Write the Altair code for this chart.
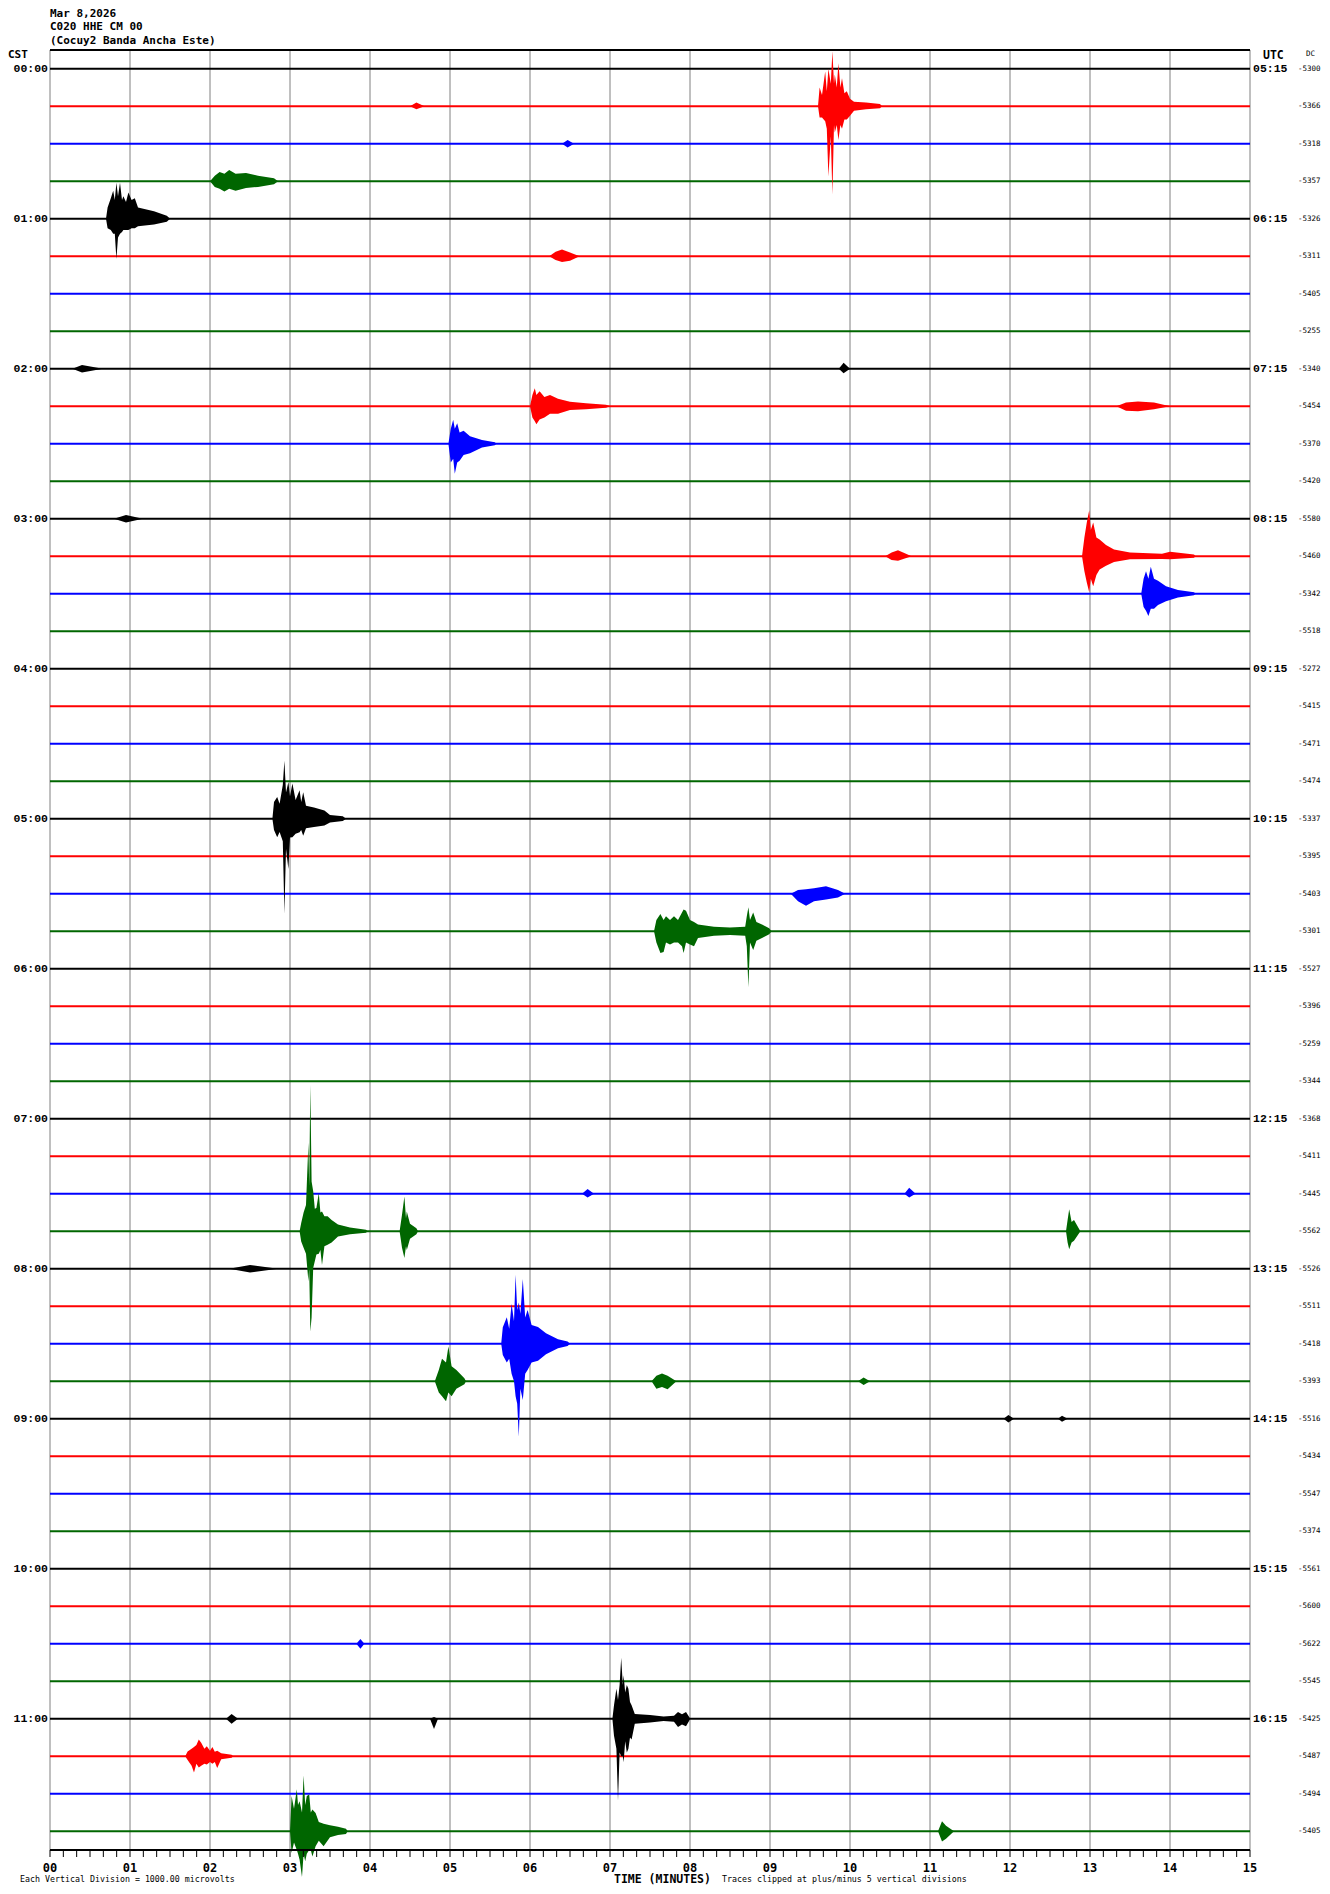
import altair as alt
import pandas as pd

# ---------------- data ----------------
hours_cst = ["00:00", "01:00", "02:00", "03:00", "04:00", "05:00",
             "06:00", "07:00", "08:00", "09:00", "10:00", "11:00"]
hours_utc = ["05:15", "06:15", "07:15", "08:15", "09:15", "10:15",
             "11:15", "12:15", "13:15", "14:15", "15:15", "16:15"]
dc_values = [-5300, -5366, -5318, -5357, -5326, -5311, -5405, -5255,
             -5340, -5454, -5370, -5420, -5580, -5460, -5342, -5518,
             -5272, -5415, -5471, -5474, -5337, -5395, -5403, -5301,
             -5527, -5396, -5259, -5344, -5368, -5411, -5445, -5562,
             -5526, -5511, -5418, -5393, -5516, -5434, -5547, -5374,
             -5561, -5600, -5622, -5545, -5425, -5487, -5494, -5405]
minute_labels = ["00", "01", "02", "03", "04", "05", "06", "07",
                 "08", "09", "10", "11", "12", "13", "14", "15"]
trace_colors = ["#000000", "#ff0000", "#0000ff", "#006600"]

# seismic bursts: trace row, then (minute, up amplitude, down amplitude),
# amplitudes in units of the trace spacing
event_rows = [1, 1, 3, 2, 4, 5, 8, 8, 9, 9, 10, 12, 13, 13, 14, 20, 22, 23,
              30, 30, 31, 31, 31, 32, 34, 35, 35, 35, 36, 36, 42, 44, 44, 44,
              45, 47, 47]
event_envelopes = [
    [(9.60, 0, 0), (9.62, 0.5, 0.3), (9.65, 0.3, 0.3), (9.69, 0.93, 0.4), (9.71, 0.4, 0.6),
     (9.73, 1.0, 1.87), (9.76, 0.6, 0.8), (9.78, 1.47, 2.35), (9.80, 0.6, 0.5), (9.81, 0.85, 0.7),
     (9.835, 0.5, 0.5), (9.855, 1.15, 0.9), (9.88, 0.5, 0.5), (9.90, 0.75, 0.6), (9.93, 0.35, 0.35),
     (9.96, 0.4, 0.35), (10.0, 0.2, 0.25), (10.05, 0.12, 0.12), (10.2, 0.1, 0.08),
     (10.375, 0.06, 0.05), (10.4, 0, 0)],
    [(4.50, 0, 0), (4.58, 0.1, 0.08), (4.68, 0, 0)],
    [(2.0, 0, 0), (2.06, 0.15, 0.15), (2.12, 0.25, 0.2), (2.18, 0.2, 0.27), (2.24, 0.3, 0.2),
     (2.32, 0.2, 0.25), (2.45, 0.22, 0.18), (2.6, 0.15, 0.15), (2.8, 0.08, 0.08), (2.85, 0, 0)],
    [(6.40, 0, 0), (6.47, 0.1, 0.1), (6.55, 0, 0)],
    [(0.70, 0, 0), (0.72, 0.3, 0.25), (0.76, 0.55, 0.3), (0.79, 0.75, 0.4), (0.81, 0.5, 0.4),
     (0.83, 0.96, 1.07), (0.85, 0.6, 0.5), (0.875, 0.96, 0.4), (0.90, 0.5, 0.35), (0.917, 0.6, 0.3),
     (0.95, 0.45, 0.3), (0.98, 0.7, 0.3), (1.02, 0.5, 0.25), (1.06, 0.55, 0.25), (1.1, 0.3, 0.2),
     (1.3, 0.2, 0.15), (1.46, 0.08, 0.08), (1.5, 0, 0)],
    [(6.24, 0, 0), (6.32, 0.12, 0.1), (6.40, 0.18, 0.15), (6.5, 0.1, 0.12), (6.62, 0, 0)],
    [(0.28, 0, 0), (0.40, 0.1, 0.1), (0.66, 0, 0)],
    [(9.86, 0, 0), (9.92, 0.16, 0.12), (10.0, 0, 0)],
    [(6.0, 0, 0), (6.03, 0.3, 0.3), (6.06, 0.48, 0.4), (6.08, 0.3, 0.48), (6.12, 0.4, 0.35),
     (6.18, 0.25, 0.3), (6.25, 0.3, 0.2), (6.35, 0.2, 0.2), (6.5, 0.12, 0.1), (6.7, 0.08, 0.08),
     (6.95, 0.04, 0.04), (7.0, 0, 0)],
    [(13.33, 0, 0), (13.45, 0.1, 0.12), (13.6, 0.13, 0.13), (13.8, 0.1, 0.08), (14.0, 0, 0)],
    [(4.98, 0, 0), (5.01, 0.4, 0.5), (5.04, 0.64, 0.4), (5.06, 0.4, 0.8), (5.09, 0.55, 0.5),
     (5.12, 0.3, 0.45), (5.17, 0.35, 0.3), (5.25, 0.2, 0.25), (5.4, 0.1, 0.1), (5.56, 0.04, 0.04),
     (5.58, 0, 0)],
    [(0.80, 0, 0), (0.95, 0.1, 0.1), (1.16, 0, 0)],
    [(10.44, 0, 0), (10.52, 0.1, 0.1), (10.6, 0.16, 0.12), (10.77, 0, 0)],
    [(12.9, 0, 0), (12.93, 0.5, 0.4), (12.96, 0.9, 0.7), (12.99, 1.23, 0.96), (13.01, 0.7, 0.6),
     (13.04, 0.9, 0.8), (13.08, 0.5, 0.5), (13.12, 0.45, 0.35), (13.2, 0.3, 0.25), (13.3, 0.18, 0.15),
     (13.5, 0.1, 0.08), (13.9, 0.07, 0.07), (14.0, 0.12, 0.08), (14.3, 0.05, 0.04), (14.32, 0, 0)],
    [(13.64, 0, 0), (13.67, 0.4, 0.35), (13.70, 0.6, 0.45), (13.73, 0.4, 0.59), (13.76, 0.72, 0.4),
     (13.8, 0.4, 0.4), (13.85, 0.35, 0.3), (13.95, 0.2, 0.2), (14.1, 0.1, 0.1), (14.3, 0.04, 0.04),
     (14.32, 0, 0)],
    [(2.78, 0, 0), (2.80, 0.45, 0.3), (2.84, 0.58, 0.49), (2.87, 0.4, 0.35), (2.91, 0.9, 0.6),
     (2.93, 1.55, 2.53), (2.95, 0.7, 0.8), (2.98, 0.98, 1.34), (3.0, 0.6, 0.5), (3.03, 0.94, 0.49),
     (3.07, 0.5, 0.4), (3.12, 0.76, 0.36), (3.14, 0.45, 0.3), (3.165, 0.71, 0.45), (3.2, 0.35, 0.25),
     (3.3, 0.3, 0.22), (3.43, 0.22, 0.18), (3.5, 0.1, 0.1), (3.66, 0.07, 0.06), (3.7, 0, 0)],
    [(9.26, 0, 0), (9.35, 0.1, 0.2), (9.45, 0.12, 0.32), (9.55, 0.15, 0.2), (9.7, 0.2, 0.15),
     (9.85, 0.1, 0.1), (9.94, 0, 0)],
    [(7.55, 0, 0), (7.58, 0.3, 0.3), (7.63, 0.46, 0.58), (7.67, 0.3, 0.55), (7.70, 0.4, 0.3),
     (7.75, 0.3, 0.35), (7.80, 0.4, 0.3), (7.85, 0.3, 0.3), (7.90, 0.5, 0.4), (7.92, 0.58, 0.58),
     (7.95, 0.55, 0.3), (8.0, 0.3, 0.35), (8.05, 0.25, 0.4), (8.1, 0.18, 0.18), (8.3, 0.12, 0.12),
     (8.5, 0.1, 0.1), (8.69, 0.12, 0.12), (8.71, 0.4, 0.4), (8.73, 0.64, 1.49), (8.75, 0.3, 0.3),
     (8.79, 0.5, 0.5), (8.83, 0.25, 0.25), (8.9, 0.18, 0.18), (8.99, 0.08, 0.08), (9.02, 0, 0)],
    [(6.65, 0, 0), (6.72, 0.13, 0.1), (6.80, 0, 0)],
    [(10.68, 0, 0), (10.74, 0.16, 0.1), (10.82, 0, 0)],
    [(3.12, 0, 0), (3.14, 0.22, 0.27), (3.17, 0.5, 0.44), (3.2, 0.7, 0.6), (3.23, 2.36, 1.33),
     (3.24, 1.2, 1.0), (3.254, 3.91, 2.67), (3.27, 1.33, 2.3), (3.29, 1.07, 0.98), (3.31, 0.6, 0.8),
     (3.33, 0.62, 0.62), (3.36, 1.02, 0.6), (3.38, 0.5, 0.5), (3.40, 0.53, 0.9), (3.43, 0.4, 0.4),
     (3.47, 0.4, 0.36), (3.52, 0.3, 0.3), (3.6, 0.18, 0.14), (3.75, 0.1, 0.08), (3.95, 0.04, 0.04),
     (3.97, 0, 0)],
    [(4.37, 0, 0), (4.40, 0.44, 0.44), (4.43, 0.93, 0.71), (4.45, 0.35, 0.4), (4.46, 0.53, 0.5),
     (4.5, 0.2, 0.2), (4.58, 0.08, 0.08), (4.6, 0, 0)],
    [(12.7, 0, 0), (12.72, 0.3, 0.3), (12.74, 0.59, 0.48), (12.77, 0.25, 0.3), (12.8, 0.3, 0.25),
     (12.88, 0, 0)],
    [(2.24, 0, 0), (2.5, 0.1, 0.1), (2.85, 0, 0)],
    [(5.64, 0, 0), (5.66, 0.44, 0.3), (5.71, 0.71, 0.5), (5.74, 0.4, 0.4), (5.77, 1.07, 0.8),
     (5.80, 0.6, 1.0), (5.82, 1.84, 1.4), (5.84, 0.9, 1.6), (5.86, 1.1, 2.48), (5.88, 0.8, 1.2),
     (5.91, 1.73, 1.5), (5.94, 0.7, 0.8), (5.97, 0.9, 0.7), (6.02, 0.5, 0.5), (6.1, 0.45, 0.45),
     (6.2, 0.28, 0.28), (6.35, 0.12, 0.12), (6.47, 0.06, 0.06), (6.5, 0, 0)],
    [(4.81, 0, 0), (4.86, 0.3, 0.3), (4.9, 0.6, 0.4), (4.95, 0.5, 0.53), (4.98, 0.93, 0.3),
     (5.02, 0.4, 0.4), (5.08, 0.3, 0.2), (5.18, 0.08, 0.08), (5.2, 0, 0)],
    [(7.52, 0, 0), (7.58, 0.15, 0.2), (7.65, 0.21, 0.15), (7.72, 0.15, 0.21), (7.83, 0, 0)],
    [(10.1, 0, 0), (10.17, 0.1, 0.1), (10.25, 0, 0)],
    [(11.92, 0, 0), (11.98, 0.1, 0.1), (12.05, 0, 0)],
    [(12.6, 0, 0), (12.65, 0.08, 0.08), (12.72, 0, 0)],
    [(3.83, 0, 0), (3.88, 0.13, 0.13), (3.93, 0, 0)],
    [(7.03, 0, 0), (7.05, 0.36, 0.45), (7.08, 0.8, 0.8), (7.10, 0.5, 2.19), (7.12, 0.9, 0.9),
     (7.14, 1.63, 1.0), (7.16, 0.9, 1.0), (7.17, 1.16, 1.16), (7.19, 0.7, 0.6), (7.21, 0.9, 0.9),
     (7.23, 0.8, 0.8), (7.25, 0.45, 0.5), (7.27, 0.36, 0.55), (7.31, 0.13, 0.13), (7.5, 0.1, 0.1),
     (7.67, 0.06, 0.06), (7.8, 0.08, 0.08), (7.85, 0.18, 0.22), (7.9, 0.12, 0.15), (7.95, 0.18, 0.2),
     (7.99, 0.05, 0.05), (8.0, 0, 0)],
    [(2.20, 0, 0), (2.27, 0.13, 0.13), (2.35, 0, 0)],
    [(4.75, 0, 0), (4.80, 0.05, 0.27), (4.85, 0, 0)],
    [(1.69, 0, 0), (1.72, 0.13, 0.1), (1.77, 0.2, 0.25), (1.80, 0.25, 0.43), (1.83, 0.3, 0.2),
     (1.86, 0.45, 0.3), (1.89, 0.36, 0.25), (1.93, 0.2, 0.2), (1.96, 0.27, 0.22), (2.0, 0.15, 0.15),
     (2.03, 0.25, 0.2), (2.06, 0.12, 0.15), (2.09, 0.15, 0.31), (2.14, 0.08, 0.08), (2.27, 0.04, 0.04),
     (2.29, 0, 0)],
    [(3.0, 0, 0), (3.02, 0.94, 0.58), (3.05, 0.6, 0.3), (3.085, 1.12, 0.5), (3.10, 0.7, 0.6),
     (3.12, 0.8, 0.76), (3.15, 0.5, 1.22), (3.17, 1.49, 0.6), (3.19, 0.7, 0.8), (3.21, 0.94, 0.6),
     (3.24, 0.98, 0.5), (3.26, 0.5, 0.5), (3.28, 0.58, 0.67), (3.32, 0.49, 0.4), (3.36, 0.25, 0.25),
     (3.42, 0.2, 0.4), (3.5, 0.16, 0.16), (3.6, 0.12, 0.1), (3.7, 0.07, 0.07), (3.72, 0, 0)],
    [(11.1, 0, 0), (11.15, 0.27, 0.27), (11.2, 0.15, 0.2), (11.3, 0, 0)],
]

n_rows = len(dc_values)
n_minutes = len(minute_labels) - 1

# ---------------- tables ----------------
base_records = []
for r in range(n_rows):
    for m in (0, n_minutes):
        base_records.append({"row": r, "minute": m, "comp": r % 4})
base_df = pd.DataFrame(base_records)

ev_records = []
for eid, (r, env) in enumerate(zip(event_rows, event_envelopes)):
    for (m, up, dn) in env:
        ev_records.append({"eid": eid, "row": r, "minute": m,
                           "upper": r - up, "lower": r + dn, "comp": r % 4})
ev_df = pd.DataFrame(ev_records)

cst_df = pd.DataFrame({"row": list(range(0, n_rows, 4)), "label": hours_cst})
utc_df = pd.DataFrame({"row": list(range(0, n_rows, 4)), "label": hours_utc})
dc_df = pd.DataFrame({"row": list(range(n_rows)), "label": [str(v) for v in dc_values]})
grid_df = pd.DataFrame({"minute": list(range(n_minutes + 1)), "label": minute_labels})
minor_df = pd.DataFrame({"minute": [i / 6 for i in range(6 * n_minutes + 1)]})

MONO = "DejaVu Sans Mono"
SERIF_MONO = "Liberation Mono"
W, H = 1200, 1800

xscale = alt.Scale(domain=[0, n_minutes], nice=False, zero=False)
yscale = alt.Scale(domain=[-0.5, n_rows - 0.5], reverse=True, nice=False, zero=False)
cscale = alt.Scale(domain=[0, 1, 2, 3], range=trace_colors)


def X(f):
    return alt.X(f, scale=xscale, axis=None, title=None)


def Y(f):
    return alt.Y(f, scale=yscale, axis=None, title=None)


gridlines = alt.Chart(grid_df).mark_rule(color="#808080", strokeWidth=1).encode(
    x=X("minute:Q"), y=alt.value(0), y2=alt.value(H),
)

baselines = alt.Chart(base_df).mark_line(strokeWidth=2).encode(
    x=X("minute:Q"), y=Y("row:Q"), detail="row:N",
    color=alt.Color("comp:N", scale=cscale, legend=None),
)

events = alt.Chart(ev_df).mark_area(interpolate="linear", strokeWidth=0).encode(
    x=X("minute:Q"), y=Y("upper:Q"), y2="lower",
    detail="eid:N",
    color=alt.Color("comp:N", scale=cscale, legend=None),
)

frame_top = alt.Chart(grid_df).mark_rule(color="#000000", strokeWidth=1.5).encode(
    x=alt.value(0), x2=alt.value(W), y=alt.value(0),
)
frame_bottom = alt.Chart(grid_df).mark_rule(color="#000000", strokeWidth=1.5).encode(
    x=alt.value(0), x2=alt.value(W), y=alt.value(H),
)
minor_ticks = alt.Chart(minor_df).mark_rule(color="#000000", strokeWidth=1).encode(
    x=X("minute:Q"), y=alt.value(H), y2=alt.value(H + 7),
)
minute_text = alt.Chart(grid_df).mark_text(
    align="center", baseline="middle", font=MONO, fontWeight="bold", fontSize=12,
    color="#000000",
).encode(x=X("minute:Q"), y=alt.value(H + 18), text="label:N")

cst_labels = alt.Chart(cst_df).mark_text(
    align="right", baseline="middle", font=SERIF_MONO, fontWeight="bold",
    fontSize=11.5, color="#000000",
).encode(x=alt.value(-2), y=Y("row:Q"), text="label:N")

utc_labels = alt.Chart(utc_df).mark_text(
    align="left", baseline="middle", font=SERIF_MONO, fontWeight="bold",
    fontSize=11.5, color="#000000",
).encode(x=alt.value(W + 3), y=Y("row:Q"), text="label:N")

dc_labels = alt.Chart(dc_df).mark_text(
    align="left", baseline="middle", font=MONO, fontSize=7.5, color="#000000",
).encode(x=alt.value(W + 48), y=Y("row:Q"), text="label:N")


def note(txt, x, y, size, bold=False, font=MONO):
    return alt.Chart(pd.DataFrame({"t": [txt]})).mark_text(
        align="left", baseline="middle", font=font, fontSize=size,
        fontWeight="bold" if bold else "normal", color="#000000",
    ).encode(x=alt.value(x), y=alt.value(y), text="t:N")


notes = [
    note("Mar 8,2026", 0, -36, 11, True),
    note("C020 HHE CM 00", 0, -23, 11, True),
    note("(Cocuy2 Banda Ancha Este)", 0, -9, 11, True),
    note("CST", -42, 5, 11, True),
    note("UTC", 1213, 6, 11.5, True),
    note("DC", 1256, 4, 7.5),
    note("Each Vertical Division = 1000.00 microvolts", -30, 1830, 8.3),
    note("TIME (MINUTES)", 564, 1830, 11.5, True),
    note("Traces clipped at plus/minus 5 vertical divisions", 672, 1830, 8.3),
]

chart = alt.layer(
    gridlines, baselines, events, frame_top, frame_bottom, minor_ticks, minute_text,
    cst_labels, utc_labels, dc_labels, *notes,
).properties(
    width=W, height=H,
    autosize=alt.AutoSizeParams(type="none"),
    padding={"left": 42, "top": 42, "right": 72, "bottom": 36},
    background="#ffffff",
).configure_view(stroke=None)

chart.save("out.html", embed_options={"renderer": "svg", "actions": False})
